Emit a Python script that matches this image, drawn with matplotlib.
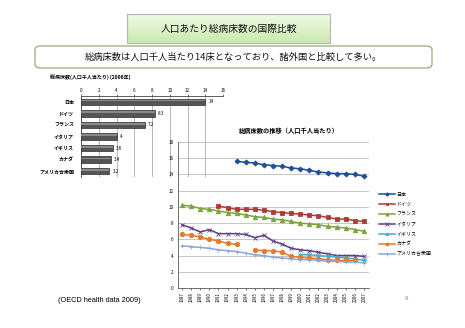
import numpy as np
import matplotlib
matplotlib.use("Agg")
import matplotlib.pyplot as plt
from matplotlib.patches import FancyBboxPatch

plt.rcParams['font.family'] = ['Noto Sans CJK JP', 'DejaVu Sans']

# bar chart data (2006)
countries = ["日本", "ドイツ", "フランス", "イタリア", "イギリス", "カナダ", "アメリカ合衆国"]
beds_2006 = [14, 8.3, 7.2, 4, 3.6, 3.4, 3.2]
bar_labels = ["14", "8.3", "7.2", "4", "3.6", "3.4", "3.2"]

# line chart data 1987-2007 (None = no data)
years = list(range(1987, 2008))
japan = [None, None, None, None, None, None, 15.6, 15.5, 15.4, 15.2, 15.1,
         15.0, 14.8, 14.7, 14.5, 14.3, 14.2, 14.1, 14.1, 14.0, 13.8]
germany = [None, None, None, None, 10.1, 9.9, 9.7, 9.7, 9.7, 9.6, 9.4,
           9.3, 9.2, 9.1, 9.0, 8.9, 8.7, 8.5, 8.5, 8.3, 8.2]
france = [10.2, 10.1, 9.8, 9.7, 9.5, 9.3, 9.2, 9.0, 8.8, 8.7, 8.5,
          8.4, 8.2, 8.0, 7.9, 7.8, 7.6, 7.5, 7.4, 7.2, 7.0]
italy = [7.8, 7.4, 6.9, 7.2, 6.7, 6.7, 6.7, 6.6, 6.2, 6.5, 5.8,
         5.4, 4.9, 4.7, 4.6, 4.4, 4.2, 4.0, 4.0, 4.0, 3.9]
uk = [None, None, None, None, None, None, None, None, None, None, None,
      None, None, 4.1, 4.1, 4.0, 3.9, 3.8, 3.7, 3.6, 3.4]
canada = [6.6, 6.5, 6.3, 6.0, 5.8, 5.5, 5.4, None, 4.7, 4.6, 4.6,
          4.4, 3.9, 3.8, 3.7, 3.6, 3.5, 3.4, 3.4, 3.4, None]
usa = [5.2, 5.1, 5.0, 4.9, 4.7, 4.6, 4.5, 4.3, 4.1, 4.0, 3.8,
       3.7, 3.6, 3.5, 3.5, 3.4, 3.3, 3.3, 3.2, 3.2, 3.1]

W, H = 465, 328
fig = plt.figure(figsize=(W / 100, H / 100), dpi=100)
fig.patch.set_facecolor("white")


def box(x0, y0, x1, y1):
    # pixel box -> figure coords [left, bottom, width, height]
    return [x0 / W, 1 - y1 / H, (x1 - x0) / W, (y1 - y0) / H]


# header with green gradient
hax = fig.add_axes(box(127, 14, 330, 43))
grad = np.linspace(0, 1, 50).reshape(-1, 1)
top_c = np.array([0.94, 0.98, 0.90])
bot_c = np.array([0.80, 0.91, 0.68])
img = top_c + (bot_c - top_c) * grad[:, :, None]
hax.imshow(img, aspect="auto", extent=[0, 1, 0, 1])
hax.set_xticks([])
hax.set_yticks([])
for s in hax.spines.values():
    s.set_color("#b5b5b5")
    s.set_linewidth(0.8)
hax.text(0.5, 0.48, "人口あたり総病床数の国際比較", ha="center", va="center",
         fontsize=7, color="#111111")

# summary box
fig.patches.append(FancyBboxPatch((35 / W, 1 - 68 / H), 397 / W, 22 / H,
                                  boxstyle="round,pad=0,rounding_size=0.012",
                                  transform=fig.transFigure, facecolor="white",
                                  edgecolor="#94ad7a", linewidth=0.9))
fig.text(233 / W, 1 - 57 / H, "総病床数は人口千人当たり14床となっており、諸外国と比較して多い。",
         ha="center", va="center", fontsize=6.7, color="#111111")

# bar chart
fig.text(50 / W, 1 - 77 / H, "総病床数(人口千人当たり) (2006年)", ha="left",
         va="center", fontsize=3.6, fontweight="bold")
bax = fig.add_axes(box(81, 96, 223, 177))
pos = np.arange(len(countries))
bax.barh(pos, beds_2006, height=0.55, color="#555555", edgecolor="#2e2e2e",
         linewidth=0.5, zorder=3)
bax.barh(pos - 0.1, beds_2006, height=0.15, color="#8a8a8a", linewidth=0, zorder=4)
for p, v, lab in zip(pos, beds_2006, bar_labels):
    bax.text(v + 0.35, p, lab, va="center", ha="left", fontsize=3.3)
bax.set_xlim(0, 16)
bax.set_ylim(len(countries) - 0.5, -0.5)
bax.set_xticks(range(0, 17, 2))
bax.xaxis.tick_top()
bax.set_yticks(pos)
bax.set_yticklabels(countries, fontweight="bold")
bax.tick_params(axis="y", labelsize=3.6, length=0, pad=5)
bax.tick_params(axis="x", labelsize=3.3, length=1.5, width=0.4, pad=1)
bax.grid(axis="x", color="#9a9a9a", linewidth=0.5, zorder=0)
bax.set_facecolor("none")
for k in ["right", "bottom"]:
    bax.spines[k].set_visible(False)
for k in ["left", "top"]:
    bax.spines[k].set_color("#444444")
    bax.spines[k].set_linewidth(0.6)

# line chart
fig.text(239 / W, 1 - 131 / H, "総病床数の推移（人口千人当たり）", ha="left",
         va="center", fontsize=4.5, fontweight="bold")
lax = fig.add_axes(box(177.5, 142, 368.5, 288))
lax.set_facecolor("none")

series = [
    ("日本", japan, "#1f4e99", "D", 2.6),
    ("ドイツ", germany, "#b03a36", "s", 3.0),
    ("フランス", france, "#7aa33a", "^", 3.2),
    ("イタリア", italy, "#5c3f86", "x", 3.2),
    ("イギリス", uk, "#3fb0c8", "*", 3.4),
    ("カナダ", canada, "#e8782a", "o", 3.2),
    ("アメリカ合衆国", usa, "#8aa7d6", "+", 3.4),
]
for name, vals, col, mk, ms in series:
    y = np.array([np.nan if v is None else v for v in vals], dtype=float)
    lax.plot(years, y, color=col, marker=mk, markersize=ms, linewidth=1.1,
             markeredgewidth=0.6, label=name, zorder=3)

lax.set_xlim(1986.5, 2007.5)
lax.set_ylim(0, 18)
lax.set_yticks(range(0, 19, 2))
lax.set_xticks(years)
lax.set_xticklabels([str(y) for y in years], rotation=90)
lax.tick_params(axis="y", labelsize=3.3, length=0, pad=3)
lax.tick_params(axis="x", labelsize=3.1, length=1.5, width=0.4, pad=1.5)
lax.grid(axis="y", color="#bdbdbd", linewidth=0.6, zorder=0)
for k in ["right", "top"]:
    lax.spines[k].set_visible(False)
for k in ["left", "bottom"]:
    lax.spines[k].set_color("#555555")
    lax.spines[k].set_linewidth(0.6)

leg = lax.legend(loc="upper left", bbox_to_anchor=(376 / W, 1 - 189 / H),
                 bbox_transform=fig.transFigure, frameon=False, fontsize=3.6,
                 handlelength=3.2, handletextpad=0.4, labelspacing=1.0,
                 borderpad=0, markerscale=0.7)

# footer
fig.text(58 / W, 1 - 300 / H, "(OECD health data 2009)", ha="left", va="center",
         fontsize=5.3, family=["Liberation Sans", "DejaVu Sans"])
fig.text(406 / W, 1 - 299 / H, "9", ha="center", va="center", fontsize=4.5,
         color="#888888", family=["Liberation Sans", "DejaVu Sans"])

fig.savefig("out.png", dpi=100)
